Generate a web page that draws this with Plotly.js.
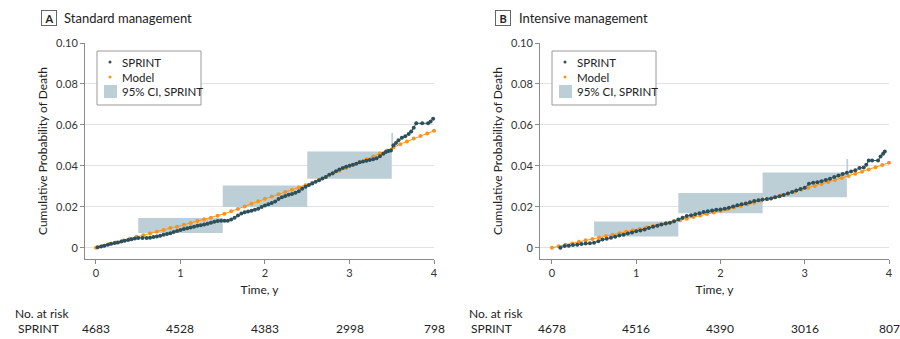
<!DOCTYPE html>
<html>
<head>
<meta charset="utf-8">
<script src="https://cdn.plot.ly/plotly-3.0.1.min.js"></script>
<style>html,body{margin:0;padding:0;background:#fff;}#chart{width:900px;height:339px;}</style>
</head>
<body>
<div id="chart"></div>
<script>
// ---------- Panel A: Standard management ----------
const modelX = [0.00,0.08,0.16,0.24,0.32,0.40,0.48,0.56,0.64,0.72,0.80,0.88,0.96,1.04,1.12,1.20,1.28,1.36,1.44,1.52,1.60,1.68,1.76,1.84,1.92,2.00,2.08,2.16,2.24,2.32,2.40,2.48,2.56,2.64,2.72,2.80,2.88,2.96,3.04,3.12,3.20,3.28,3.36,3.44,3.52,3.60,3.68,3.76,3.84,3.92,4.00];
const modelA = [0.0000,0.0009,0.0018,0.0026,0.0035,0.0044,0.0054,0.0061,0.0070,0.0078,0.0087,0.0096,0.0103,0.0112,0.0121,0.0130,0.0139,0.0147,0.0156,0.0166,0.0178,0.0189,0.0202,0.0215,0.0227,0.0239,0.0250,0.0261,0.0272,0.0283,0.0294,0.0305,0.0317,0.0332,0.0346,0.0361,0.0376,0.0390,0.0404,0.0418,0.0432,0.0446,0.0460,0.0474,0.0489,0.0506,0.0519,0.0533,0.0546,0.0558,0.0571];
const sprintAx = [0.02,0.06,0.10,0.14,0.18,0.22,0.26,0.30,0.34,0.38,0.42,0.46,0.50,0.55,0.60,0.64,0.68,0.72,0.76,0.80,0.84,0.88,0.92,0.96,1.00,1.04,1.08,1.12,1.16,1.20,1.24,1.28,1.32,1.36,1.40,1.44,1.48,1.52,1.56,1.60,1.64,1.68,1.72,1.76,1.80,1.84,1.88,1.92,1.96,2.00,2.04,2.08,2.12,2.16,2.20,2.24,2.28,2.32,2.36,2.40,2.44,2.48,2.52,2.56,2.60,2.64,2.68,2.72,2.76,2.80,2.84,2.88,2.92,2.96,3.00,3.04,3.08,3.12,3.16,3.20,3.24,3.28,3.32,3.36,3.40,3.43,3.46,3.49,3.52,3.55,3.58,3.62,3.66,3.70,3.73,3.76,3.79,3.86,3.93,3.96,3.99];
const sprintAy = [0.0002,0.0006,0.0010,0.0015,0.0019,0.0023,0.0026,0.0030,0.0034,0.0038,0.0042,0.0045,0.0047,0.0048,0.0048,0.0049,0.0052,0.0055,0.0059,0.0063,0.0067,0.0071,0.0077,0.0082,0.0087,0.0091,0.0095,0.0099,0.0103,0.0107,0.0110,0.0113,0.0117,0.0122,0.0127,0.0131,0.0132,0.0132,0.0132,0.0138,0.0147,0.0158,0.0167,0.0173,0.0177,0.0181,0.0185,0.0191,0.0199,0.0206,0.0212,0.0219,0.0226,0.0238,0.0246,0.0253,0.0259,0.0263,0.0268,0.0276,0.0288,0.0298,0.0307,0.0314,0.0322,0.0330,0.0338,0.0346,0.0356,0.0364,0.0373,0.0382,0.0390,0.0396,0.0400,0.0405,0.0410,0.0417,0.0421,0.0425,0.0429,0.0432,0.0437,0.0447,0.0459,0.0468,0.0472,0.0475,0.0500,0.0512,0.0525,0.0537,0.0545,0.0556,0.0568,0.0586,0.0608,0.0608,0.0608,0.0617,0.0630];
const ciAx0 = [0.5, 1.5, 2.5, 3.495];
const ciAx1 = [1.5, 2.5, 3.5, 3.515];
const ciAlo = [0.0072, 0.0199, 0.0337, 0.0470];
const ciAhi = [0.0145, 0.0304, 0.0470, 0.0560];

// ---------- Panel B: Intensive management ----------
const modelB = [0.0000,0.0007,0.0014,0.0021,0.0029,0.0036,0.0043,0.0050,0.0057,0.0064,0.0071,0.0078,0.0085,0.0092,0.0099,0.0106,0.0113,0.0120,0.0127,0.0134,0.0142,0.0150,0.0157,0.0165,0.0172,0.0180,0.0188,0.0196,0.0204,0.0212,0.0220,0.0229,0.0238,0.0247,0.0256,0.0265,0.0274,0.0283,0.0292,0.0301,0.0311,0.0321,0.0331,0.0341,0.0351,0.0361,0.0371,0.0382,0.0393,0.0404,0.0415];
const sprintBx = [0.10,0.15,0.20,0.25,0.30,0.35,0.40,0.45,0.50,0.55,0.60,0.65,0.70,0.75,0.80,0.85,0.90,0.95,1.00,1.05,1.10,1.15,1.20,1.25,1.30,1.35,1.40,1.45,1.50,1.55,1.60,1.65,1.70,1.75,1.80,1.85,1.90,1.95,2.00,2.05,2.10,2.15,2.20,2.25,2.30,2.35,2.40,2.45,2.50,2.55,2.60,2.65,2.70,2.75,2.80,2.85,2.90,2.95,3.00,3.05,3.10,3.15,3.20,3.25,3.30,3.35,3.40,3.45,3.50,3.55,3.60,3.65,3.70,3.73,3.76,3.80,3.87,3.90,3.93,3.95];
const sprintBy = [0.0000,0.0008,0.0010,0.0013,0.0014,0.0018,0.0021,0.0022,0.0024,0.0032,0.0040,0.0044,0.0049,0.0054,0.0060,0.0064,0.0070,0.0075,0.0081,0.0084,0.0089,0.0096,0.0102,0.0108,0.0114,0.0118,0.0122,0.0129,0.0138,0.0146,0.0155,0.0159,0.0163,0.0169,0.0174,0.0178,0.0182,0.0185,0.0187,0.0190,0.0195,0.0201,0.0207,0.0212,0.0216,0.0222,0.0228,0.0232,0.0236,0.0238,0.0241,0.0246,0.0252,0.0258,0.0265,0.0272,0.0280,0.0287,0.0293,0.0312,0.0317,0.0320,0.0325,0.0331,0.0337,0.0345,0.0353,0.0360,0.0366,0.0372,0.0379,0.0390,0.0392,0.0405,0.0426,0.0426,0.0426,0.0446,0.0459,0.0470];
const ciBx0 = [0.5, 1.5, 2.5, 3.495];
const ciBx1 = [1.5, 2.5, 3.5, 3.515];
const ciBlo = [0.0055, 0.0169, 0.0247, 0.0367];
const ciBhi = [0.0128, 0.0267, 0.0367, 0.0433];

// ---------- Number at risk ----------
const riskTimes = [0, 1, 2, 3, 4];
const riskA = [4683, 4528, 4383, 2998, 798];
const riskB = [4678, 4516, 4390, 3016, 807];

// ---------- Axis ticks / legend labels ----------
const xTicks = [0, 1, 2, 3, 4];
const yTicks = [0, 0.02, 0.04, 0.06, 0.08, 0.10];
const yTickText = ['0', '0.02', '0.04', '0.06', '0.08', '0.10'];
const legendLabels = ['SPRINT', 'Model', '95% CI, SPRINT'];

const C_SPRINT = '#2c4f5a';
const C_MODEL = '#f7941d';
const C_CI = '#bccfd7';
const FONT = 'Lato, "Liberation Sans", Arial, sans-serif';

function ciPoly(x0, x1, lo, hi) {
  const xs = [], ys = [];
  for (let i = 0; i < x0.length; i++) {
    xs.push(x0[i], x1[i], x1[i], x0[i], x0[i], null);
    ys.push(lo[i], lo[i], hi[i], hi[i], lo[i], null);
  }
  return {xs, ys};
}

function panelTraces(xa, ya, ci, mX, mY, sX, sY) {
  const p = ciPoly(ci[0], ci[1], ci[2], ci[3]);
  return [
    {x: p.xs, y: p.ys, xaxis: xa, yaxis: ya, type: 'scatter', mode: 'lines', fill: 'toself',
     fillcolor: C_CI, line: {width: 0, color: C_CI}, name: legendLabels[2], showlegend: false, hoverinfo: 'skip'},
    {x: mX, y: mY, xaxis: xa, yaxis: ya, type: 'scatter', mode: 'lines+markers', line: {color: C_MODEL, width: 1},
     marker: {color: C_MODEL, size: 4}, name: legendLabels[1], showlegend: false, cliponaxis: false},
    {x: sX, y: sY, xaxis: xa, yaxis: ya, type: 'scatter', mode: 'lines+markers', line: {color: C_SPRINT, width: 1},
     marker: {color: C_SPRINT, size: 4}, name: legendLabels[0], showlegend: false, cliponaxis: false}
  ];
}

const data = [].concat(
  panelTraces('x', 'y', [ciAx0, ciAx1, ciAlo, ciAhi], modelX, modelA, sprintAx, sprintAy),
  panelTraces('x2', 'y2', [ciBx0, ciBx1, ciBlo, ciBhi], modelX, modelB, sprintBx, sprintBy)
);

function xAxis(domain, range, anchor) {
  return {
    domain: domain, range: range, anchor: anchor,
    tickmode: 'array', tickvals: xTicks, ticktext: xTicks.map(String),
    ticks: 'outside', ticklen: 4, tickcolor: '#8a8a8a', tickwidth: 1,
    showline: true, linecolor: '#8a8a8a', linewidth: 1,
    showgrid: false, zeroline: false,
    tickfont: {family: FONT, size: 11, color: '#333'},
    title: {text: 'Time, y', font: {family: FONT, size: 12, color: '#222'}, standoff: 7},
    automargin: false, fixedrange: true
  };
}
function yAxis(anchor) {
  return {
    domain: [1 - 259/339, 1 - 43/339], range: [-0.0055, 0.1], anchor: anchor,
    tickmode: 'array', tickvals: yTicks, ticktext: yTickText,
    ticks: 'outside', ticklen: 4, tickcolor: '#8a8a8a', tickwidth: 1,
    showline: true, linecolor: '#8a8a8a', linewidth: 1,
    showgrid: true, gridcolor: '#e2e2e2', gridwidth: 1, zeroline: false,
    tickfont: {family: FONT, size: 11, color: '#333'},
    title: {text: 'Cumulative Probability of Death', font: {family: FONT, size: 12, color: '#222'}, standoff: 5},
    automargin: false, fixedrange: true
  };
}

const px = v => v / 900;
const py = v => 1 - v / 339;
const riskY = py(328);
const annotations = [];
const shapes = [];

function panelLabels(letter, title, boxCx, titleX, noX, sprintRight, xref, risk) {
  annotations.push({xref: 'paper', yref: 'paper', x: px(boxCx), y: py(18), xanchor: 'center', yanchor: 'middle',
    text: '<b>' + letter + '</b>', showarrow: false, font: {family: FONT, size: 11, color: '#222'},
    bordercolor: '#666', borderwidth: 1, borderpad: 0, width: 14, height: 14});
  annotations.push({xref: 'paper', yref: 'paper', x: px(titleX), y: py(18), xanchor: 'left', yanchor: 'middle',
    text: title, showarrow: false, font: {family: FONT, size: 13, color: '#222'}});
  annotations.push({xref: 'paper', yref: 'paper', x: px(noX), y: py(313), xanchor: 'left', yanchor: 'middle',
    text: 'No. at risk', showarrow: false, font: {family: FONT, size: 12, color: '#222'}});
  annotations.push({xref: 'paper', yref: 'paper', x: px(sprintRight), y: riskY, xanchor: 'right', yanchor: 'middle',
    text: 'SPRINT', showarrow: false, font: {family: FONT, size: 12, color: '#222'}});
  riskTimes.forEach((t, i) => {
    annotations.push({xref: xref, yref: 'paper', x: t, y: riskY, xanchor: 'center', yanchor: 'middle',
      text: String(risk[i]), showarrow: false, font: {family: FONT, size: 12, color: '#222'}});
  });
}
panelLabels('A', 'Standard management', 48.5, 62, 13, 61, 'x', riskA);
panelLabels('B', 'Intensive management', 503.5, 517, 467, 514, 'x2', riskB);

// Legend box drawn as a key: frame, two dots, a swatch and three labels
function legendKey(left) {
  shapes.push({type: 'rect', xref: 'paper', yref: 'paper', x0: px(left), x1: px(left + 104), y0: py(105), y1: py(51),
    fillcolor: '#fff', line: {color: '#9a9a9a', width: 1}, layer: 'above'});
  const dotCols = [C_SPRINT, C_MODEL];
  [62, 77].forEach((yy, i) => {
    shapes.push({type: 'circle', xref: 'paper', yref: 'paper', x0: px(left + 11.5), x1: px(left + 14.5),
      y0: py(yy + 1.5), y1: py(yy - 1.5), fillcolor: dotCols[i], line: {width: 0}, layer: 'above'});
  });
  shapes.push({type: 'rect', xref: 'paper', yref: 'paper', x0: px(left + 7), x1: px(left + 20), y0: py(98), y1: py(85),
    fillcolor: C_CI, line: {width: 0}, layer: 'above'});
  [62, 77, 91].forEach((yy, i) => {
    annotations.push({xref: 'paper', yref: 'paper', x: px(left + 23), y: py(yy), xanchor: 'left', yanchor: 'middle',
      text: legendLabels[i], showarrow: false, font: {family: FONT, size: 11.5, color: '#222'}});
  });
}
legendKey(97);
legendKey(552);

const layout = {
  width: 900, height: 339,
  margin: {l: 0, r: 0, t: 0, b: 0},
  paper_bgcolor: '#fff', plot_bgcolor: '#fff',
  showlegend: false,
  xaxis: xAxis([px(85), px(434)], [-0.13, 4.0], 'y'),
  yaxis: yAxis('x'),
  xaxis2: xAxis([px(540), px(889)], [-0.142, 4.0], 'y2'),
  yaxis2: yAxis('x2'),
  annotations: annotations,
  shapes: shapes,
  font: {family: FONT}
};

Plotly.newPlot('chart', data, layout, {displayModeBar: false, staticPlot: true});
</script>
</body>
</html>
